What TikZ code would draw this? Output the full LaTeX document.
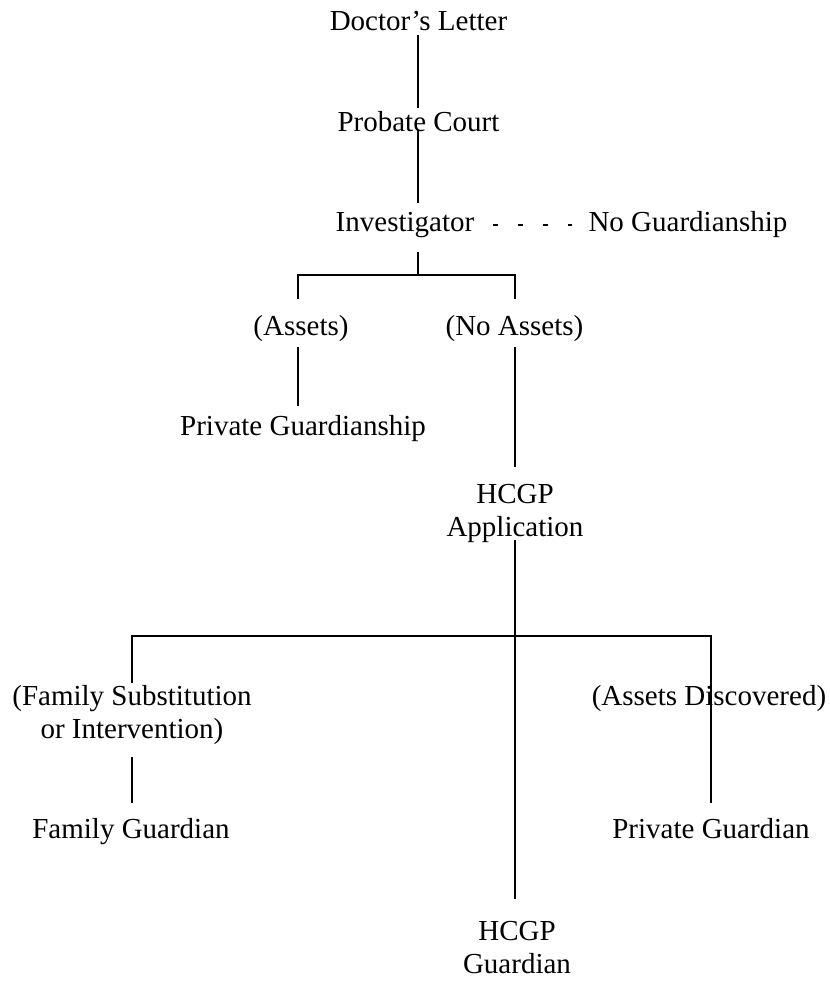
\documentclass[tikz,border=0pt]{standalone}
\usepackage{fontspec}
\setmainfont{Liberation Serif}
\newcommand\tnrfont{\fontsize{29}{33}\selectfont}
\begin{document}
\begin{tikzpicture}[x=1pt,y=-1pt,
  every node/.style={inner sep=0pt, font=\tnrfont},
  lbl/.style={anchor=base, text height=20pt, text depth=7pt},
  multi/.style={anchor=north, align=center},
  conn/.style={line width=2pt}]
\useasboundingbox (0,0) rectangle (829,981);
% nodes
\node[lbl] (dl)  at (418.5,31) {Doctor’s Letter};
\node[lbl] (pc)  at (418.5,132) {Probate Court};
\node[lbl] (inv) at (405,232) {Investigator};
\node[lbl] (nog) at (688,232) {No Guardianship};
\node[lbl] (as)  at (301,335) {(Assets)};
\node[lbl] (nas) at (514.5,335) {(No Assets)};
\node[lbl] (pg)  at (303,435) {Private Guardianship};
\node[multi] (app) at (515,484) {HCGP\\Application};
\node[multi] (fam) at (132,685) {(Family Substitution\\or Intervention)};
\node[lbl] (ad)  at (709,705) {(Assets Discovered)};
\node[lbl] (fg)  at (131,838) {Family Guardian};
\node[lbl] (pgd) at (711,838) {Private Guardian};
\node[multi] (hg) at (517,921) {HCGP\\Guardian};
% junctions
\coordinate (j1) at (418.3,275);
\coordinate (jl) at (298,275);
\coordinate (jr) at (515,275);
\coordinate (j2) at (515,636);
\coordinate (j2l) at (132,636);
\coordinate (j2r) at (711,636);
% connectors
\draw[conn, shorten <=-3pt, shorten >=4pt] (dl.south -| j1) -- (pc.north -| j1);
\draw[conn, shorten <=-9pt, shorten >=9pt] (pc.south -| j1) -- (inv.north -| j1);
\draw[conn, shorten <=13pt] (inv.south -| j1) -- (j1);
\draw[conn, shorten <=16pt, shorten >=16pt] (as.north -| jl) -- (jl) -- (jr) -- (nas.north -| jr);
\draw[line width=2pt, dash pattern=on 5pt off 20pt, shorten <=18.7pt, shorten >=16.3pt] (inv.east) -- (nog.west);
\draw[conn, shorten <=5pt, shorten >=9pt] (as.south -| jl) -- (pg.north -| jl);
\draw[conn, shorten <=5pt, shorten >=17pt] (nas.south -| jr) -- (app.north -| jr);
\draw[conn, shorten <=-3pt, shorten >=22pt] (app.south -| j2) -- (hg.north -| j2);
\draw[conn, shorten <=2pt, shorten >=15pt] (fam.north -| j2l) -- (j2l) -- (j2r) -- (pgd.north -| j2r);
\draw[conn, shorten <=12pt, shorten >=15pt] (fam.south -| j2l) -- (fg.north -| j2l);
\end{tikzpicture}
\end{document}
